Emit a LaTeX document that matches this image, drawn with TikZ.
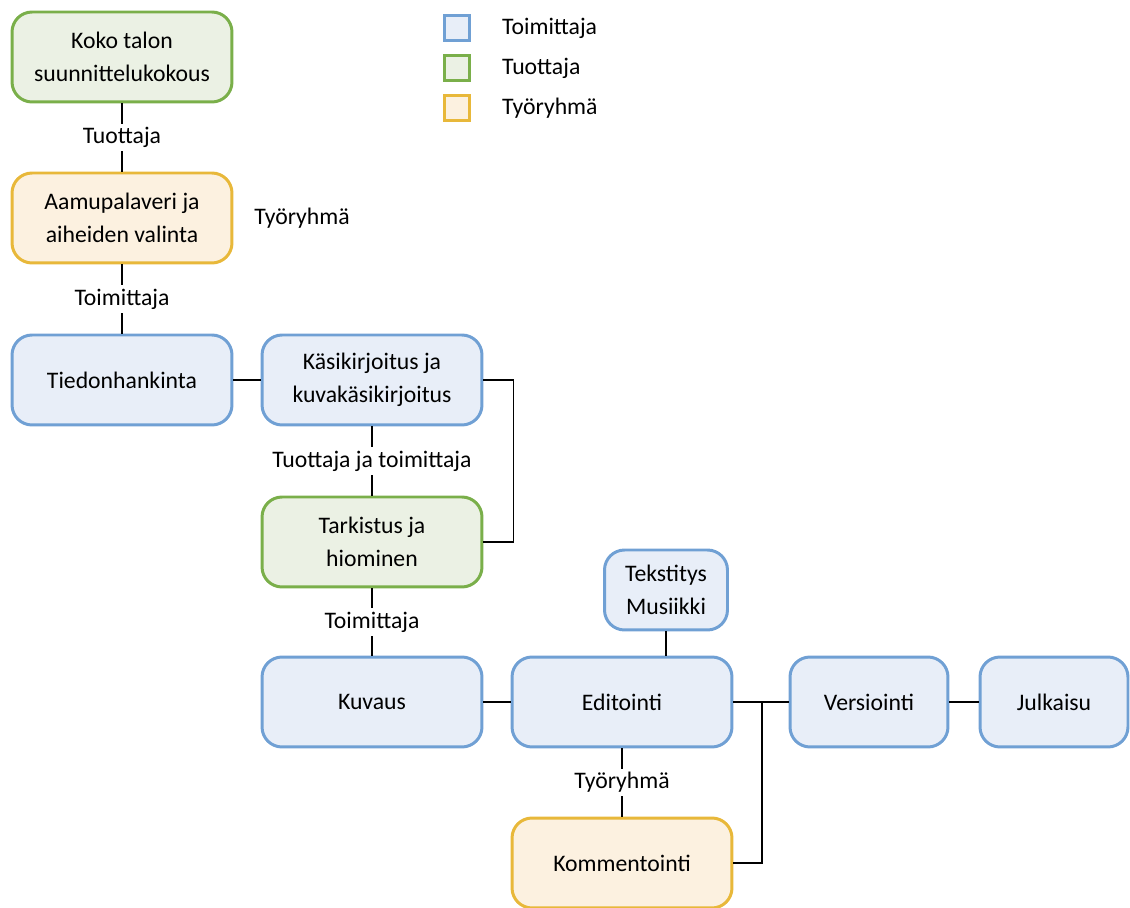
\documentclass[tikz,border=0pt]{standalone}
\usepackage{fontspec}
\setmainfont{Carlito}
\definecolor{toimb}{RGB}{112,160,212}
\definecolor{toimf}{RGB}{232,238,248}
\definecolor{tuotb}{RGB}{122,175,74}
\definecolor{tuotf}{RGB}{235,241,228}
\definecolor{tyob}{RGB}{232,184,58}
\definecolor{tyof}{RGB}{252,241,224}
\begin{document}
\begin{tikzpicture}[x=0.02cm,y=-0.02cm,
        font=\fontsize{13.5}{18.5}\selectfont,
        box/.style={rounded corners=0.4cm,line width=1.7pt,align=center,
            minimum width=4.4cm,minimum height=1.8cm,inner sep=2pt},
        toimittaja/.style={box,draw=toimb,fill=toimf},
        tuottaja/.style={box,draw=tuotb,fill=tuotf},
        tyoryhma/.style={box,draw=tyob,fill=tyof},
        lbl/.style={fill=white,inner sep=2pt},
        key/.style={line width=1.7pt,minimum size=0.5cm,inner sep=0pt},
        link/.style={line width=0.8pt}]
    \useasboundingbox (0,0) rectangle (1130,908);

    % legend
    \node[key,draw=toimb,fill=toimf] (k1) at (457,28) {};
    \node[key,draw=tuotb,fill=tuotf] (k2) at (457,68) {};
    \node[key,draw=tyob,fill=tyof] (k3) at (457,108) {};
    \node[anchor=west] (t1) at (496,28) {Toimittaja};
    \node[anchor=west] (t2) at (496,68) {Tuottaja};
    \node[anchor=west] (t3) at (496,108) {Työryhmä};

    % boxes
    \node[tuottaja] (koko) at (122,57) {Koko talon\\suunnittelukokous};
    \node[tyoryhma] (aamu) at (122,218) {Aamupalaveri ja\\aiheiden valinta};
    \node (aamutxt) at (302,218) {Työryhmä};
    \node[toimittaja] (tieto) at (122,380) {Tiedonhankinta};
    \node[toimittaja] (kasik) at (372,380) {Käsikirjoitus ja\\kuvakäsikirjoitus};
    \node[tuottaja] (tark) at (372,542) {Tarkistus ja\\hiominen};
    \node[toimittaja,minimum width=2.46cm,minimum height=1.6cm] (teks) at (666,590) {Tekstitys\\Musiikki};
    \node[toimittaja] (kuvaus) at (372,702) {Kuvaus};
    \node[toimittaja] (edit) at (622,702) {Editointi};
    \node[toimittaja,minimum width=3.16cm] (vers) at (869,702) {Versiointi};
    \node[toimittaja,minimum width=2.96cm] (julk) at (1054,702) {Julkaisu};
    \node[tyoryhma] (komm) at (622,863) {Kommentointi};

    % connectors
    \draw[link] (koko) -- node[lbl] {Tuottaja} (aamu);
    \draw[link] (aamu) -- node[lbl] {Toimittaja} (tieto);
    \draw[link] (tieto) -- (kasik);
    \draw[link] (kasik) -- node[lbl] {Tuottaja ja toimittaja} (tark);
    \draw[link] (kasik.east) -- ++(30,0) |- (tark.east);
    \draw[link] (tark) -- node[lbl] {Toimittaja} (kuvaus);
    \draw[link] (kuvaus) -- (edit);
    \draw[link] (teks.south) -- (teks.south |- edit.north);
    \draw[link] (edit) -- node[lbl] {Työryhmä} (komm);
    \draw[link] (edit.east) -- (vers.west);
    \coordinate (haara) at (762,702);
    \draw[link] (haara) |- (komm.east);
    \draw[link] (vers) -- (julk);
\end{tikzpicture}
\end{document}
